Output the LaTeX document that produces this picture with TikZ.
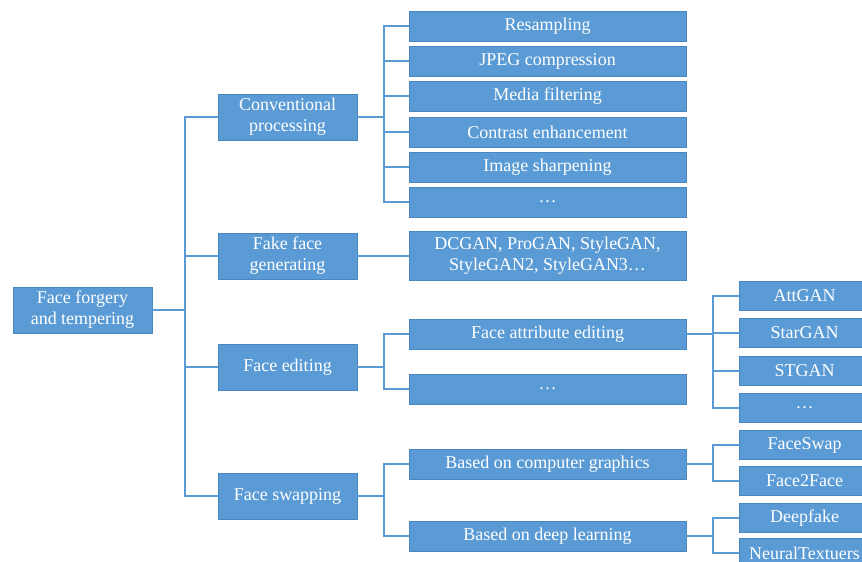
\documentclass[tikz,border=0pt]{standalone}
\usepackage{fontspec}
\setmainfont{Liberation Serif}
\definecolor{boxblue}{HTML}{5B9BD5}
\definecolor{edgeblue}{HTML}{4A86C0}
\begin{document}
\begin{tikzpicture}[x=1pt,y=-1pt,
  box/.style={rectangle, fill=boxblue, draw=edgeblue, line width=0.8pt, text=white, font=\fontsize{18}{21}\selectfont, align=center, inner sep=0pt},
  lvlone/.style={box, minimum width=139pt, minimum height=46pt},
  lvltwo/.style={box, minimum width=277pt, minimum height=30pt},
  lvlthree/.style={box, minimum width=131pt, minimum height=29pt},
  link/.style={draw=boxblue, line width=2pt}]
\clip (0,0) rectangle (862,562);
\node[lvlone] (root) at (82.5,310){Face forgery\\and tempering};
\node[lvlone] (conv) at (287.5,117){Conventional\\processing};
\node[lvlone] (fake) at (287.5,256){Fake face\\generating};
\node[lvlone] (edit) at (287.5,367){Face editing};
\node[lvlone] (swap) at (287.5,496){Face swapping};
\coordinate (t0) at (185,310);
\draw[link](root.east) -- (t0) |- (conv.west);
\draw[link](t0) |- (fake.west);
\draw[link](t0) |- (edit.west);
\draw[link](t0) |- (swap.west);
\node[lvltwo] (resamp) at (547.5,26){Resampling};
\node[lvltwo] (jpeg) at (547.5,61){JPEG compression};
\node[lvltwo] (media) at (547.5,96){Media filtering};
\node[lvltwo] (contrast) at (547.5,132){Contrast enhancement};
\node[lvltwo] (sharp) at (547.5,167){Image sharpening};
\node[lvltwo] (convmore) at (547.5,202){\dots};
\coordinate (t1) at (384,117);
\draw[link](conv.east) -- (t1) |- (resamp.west);
\draw[link](t1) |- (jpeg.west);
\draw[link](t1) |- (media.west);
\draw[link](t1) |- (contrast.west);
\draw[link](t1) |- (sharp.west);
\draw[link](t1) |- (convmore.west);
\node[lvltwo, minimum height=49pt] (gan) at (547.5,256){DCGAN, ProGAN, StyleGAN,\\StyleGAN2, StyleGAN3\dots};
\draw[link](fake.east) -- (gan.west);
\node[lvltwo] (attr) at (547.5,334){Face attribute editing};
\node[lvltwo] (editmore) at (547.5,389){\dots};
\coordinate (t2) at (384,367);
\draw[link](edit.east) -- (t2) |- (attr.west);
\draw[link](t2) |- (editmore.west);
\node[lvltwo] (graph) at (547.5,464){Based on computer graphics};
\node[lvltwo] (deep) at (547.5,536){Based on deep learning};
\coordinate (t3) at (384,496);
\draw[link](swap.east) -- (t3) |- (graph.west);
\draw[link](t3) |- (deep.west);
\node[lvlthree] (attgan) at (804.5,296){AttGAN};
\node[lvlthree] (stargan) at (804.5,333){StarGAN};
\node[lvlthree] (stgan) at (804.5,371){STGAN};
\node[lvlthree] (attrmore) at (804.5,408){\dots};
\coordinate (t4) at (713,334);
\draw[link](attr.east) -- (t4) |- (attgan.west);
\draw[link](t4) |- (stargan.west);
\draw[link](t4) |- (stgan.west);
\draw[link](t4) |- (attrmore.west);
\node[lvlthree] (faceswap) at (804.5,445){FaceSwap};
\node[lvlthree] (facetwo) at (804.5,481){Face2Face};
\coordinate (t5) at (713,464);
\draw[link](graph.east) -- (t5) |- (faceswap.west);
\draw[link](t5) |- (facetwo.west);
\node[lvlthree] (deepfake) at (804.5,518){Deepfake};
\node[lvlthree] (neural) at (804.5,553){NeuralTextuers};
\coordinate (t6) at (713,536);
\draw[link](deep.east) -- (t6) |- (deepfake.west);
\draw[link](t6) |- (neural.west);
\end{tikzpicture}
\end{document}
